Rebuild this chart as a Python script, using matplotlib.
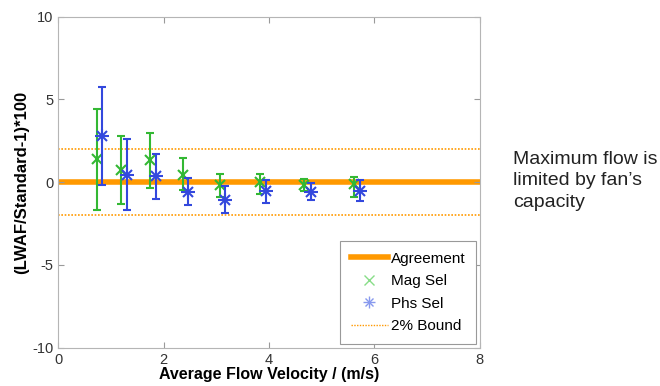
import matplotlib
matplotlib.use('Agg')
import matplotlib.pyplot as plt
from matplotlib.lines import Line2D

plt.rcParams['font.family'] = ['Liberation Sans', 'DejaVu Sans']
plt.rcParams['axes.unicode_minus'] = False

# Magnitude-selected points
mag_x = [0.74, 1.19, 1.74, 2.37, 3.07, 3.83, 4.67, 5.61]
mag_y = [1.43, 0.72, 1.33, 0.46, -0.14, 0.02, -0.18, -0.08]
mag_hi = [4.45, 2.78, 3.00, 1.47, 0.48, 0.52, 0.22, 0.32]
mag_lo = [-1.65, -1.29, -0.38, -0.48, -0.92, -0.73, -0.54, -0.89]

# Phase-selected points
phs_x = [0.83, 1.31, 1.85, 2.46, 3.17, 3.94, 4.79, 5.72]
phs_y = [2.80, 0.46, 0.36, -0.58, -1.05, -0.52, -0.58, -0.52]
phs_hi = [5.76, 2.60, 1.69, 0.28, -0.22, 0.16, -0.02, 0.16]
phs_lo = [-0.18, -1.65, -0.99, -1.39, -1.89, -1.23, -1.09, -1.15]

bound = 2
x_ticks = [0, 2, 4, 6, 8]
y_ticks = [-10, -5, 0, 5, 10]

green = '#33b833'
blue = '#3348dd'
orange = '#ff9900'

fig = plt.figure(figsize=(6.6, 3.86), dpi=100)
ax = fig.add_axes([0.088, 0.099, 0.639, 0.858])

ax.axhline(0, color=orange, lw=4, zorder=1)
ax.axhline(bound, color=orange, lw=1.2, ls=(0, (1, 1)), zorder=1)
ax.axhline(-bound, color=orange, lw=1.2, ls=(0, (1, 1)), zorder=1)

mag_err = [[y - lo for y, lo in zip(mag_y, mag_lo)],
           [hi - y for y, hi in zip(mag_y, mag_hi)]]
phs_err = [[y - lo for y, lo in zip(phs_y, phs_lo)],
           [hi - y for y, hi in zip(phs_y, phs_hi)]]

ax.errorbar(mag_x, mag_y, yerr=mag_err, fmt='x', color=green, ms=7,
            mew=1.5, elinewidth=1.5, capsize=3, zorder=3)
ax.errorbar(phs_x, phs_y, yerr=phs_err, fmt='x', color=blue, ms=7,
            mew=1.5, elinewidth=1.5, capsize=3, zorder=4)
# matlab style asterisk = x + plus
ax.plot(phs_x, phs_y, '+', color=blue, ms=10, mew=1.5, zorder=4)

ax.set_xlim(0, 8)
ax.set_ylim(-10, 10)
ax.set_xticks(x_ticks)
ax.set_yticks(y_ticks)
ax.tick_params(direction='in', colors='#9a9a9a', labelcolor='#333333',
               labelsize=10.5, length=4, top=True, right=True)
for s in ax.spines.values():
    s.set_color('#b5b5b5')

ax.set_xlabel('Average Flow Velocity / (m/s)', fontsize=11.5,
              fontweight='bold', labelpad=0)
ax.set_ylabel('(LWAF/Standard-1)*100', fontsize=12, fontweight='bold',
              labelpad=2)

star = (Line2D([], [], ls='none', marker='x', color='#8899ee', ms=6),
        Line2D([], [], ls='none', marker='+', color='#8899ee', ms=8))
handles = [
    Line2D([], [], color=orange, lw=4),
    Line2D([], [], ls='none', marker='x', color='#88dd88', ms=7),
    star,
    Line2D([], [], color=orange, lw=1, ls=(0, (1, 1))),
]
labels = ['Agreement', 'Mag Sel', 'Phs Sel', '2% Bound']
leg = ax.legend(handles, labels, loc='lower right', fontsize=11,
                fancybox=False, framealpha=1, edgecolor='#999999',
                handlelength=2.4, handletextpad=0.2, borderpad=0.7,
                labelspacing=0.56, borderaxespad=0.25)
leg.get_frame().set_linewidth(0.8)

fig.text(0.777, 0.609, 'Maximum flow is\nlimited by fan\u2019s\ncapacity',
         fontsize=14, color='#222222', va='top', ha='left',
         linespacing=1.34)

fig.savefig('out.png', dpi=100)
